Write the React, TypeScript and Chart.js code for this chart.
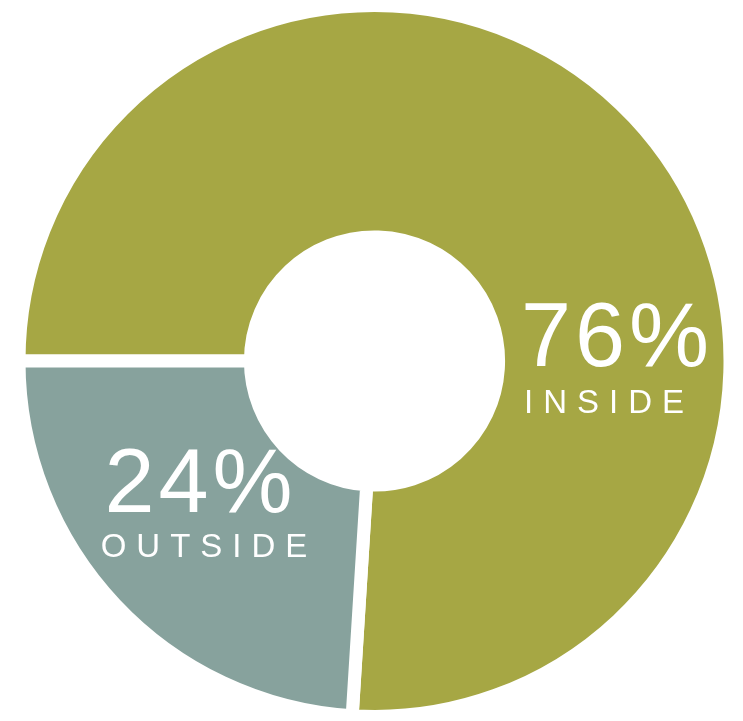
import React, { useEffect, useRef } from "react";
import { Chart, registerables } from "chart.js";

Chart.register(...registerables);

const categories = ["INSIDE", "OUTSIDE"];
const values = [76, 24];
const percentLabels = ["76%", "24%"];
const colors = ["#A6A744", "#87A29D"];

// label placement offsets relative to the doughnut centre (px): [pctDx, pctDy, nameDx, nameDy]
const labelOffsets = [
  [240.5, 5, 229.5, 52],
  [-176, 151, -170.5, 196],
];

function drawSpaced(ctx: CanvasRenderingContext2D, text: string, cx: number, y: number, spacing: number) {
  const chars = text.split("");
  const widths = chars.map((c) => ctx.measureText(c).width);
  const total = widths.reduce((a, b) => a + b, 0) + spacing * (chars.length - 1);
  let x = cx - total / 2;
  ctx.textAlign = "left";
  chars.forEach((c, i) => {
    ctx.fillText(c, x, y);
    x += widths[i] + spacing;
  });
}

const labelPlugin = {
  id: "centerLabels",
  afterDatasetsDraw(chart: any) {
    const meta = chart.getDatasetMeta(0);
    const ctx: CanvasRenderingContext2D = chart.ctx;
    ctx.save();
    ctx.fillStyle = "#FFFFFF";
    ctx.textBaseline = "alphabetic";
    meta.data.forEach((arc: any, i: number) => {
      const cx = arc.x;
      const cy = arc.y;
      const off = labelOffsets[i];
      ctx.font = "90px 'Liberation Sans', Arial, sans-serif";
      drawSpaced(ctx, percentLabels[i], cx + off[0], cy + off[1], 4);
      ctx.font = "33px 'Liberation Sans', Arial, sans-serif";
      drawSpaced(ctx, categories[i], cx + off[2], cy + off[3], 10);
    });
    ctx.restore();
  },
};

export default function App() {
  const ref = useRef<HTMLCanvasElement>(null);
  useEffect(() => {
    if (!ref.current) return;
    const chart = new Chart(ref.current, {
      type: "doughnut",
      data: {
        labels: categories,
        datasets: [
          {
            data: values,
            backgroundColor: colors,
            borderColor: "#FFFFFF",
            borderWidth: 13,
            borderAlign: "center",
          },
        ],
      },
      options: {
        responsive: false,
        animation: false,
        rotation: 270,
        radius: 355.5,
        cutout: "34.9%",
        layout: { padding: { left: 6, right: 0, top: 1, bottom: 0 } },
        plugins: {
          legend: { display: false },
          tooltip: { enabled: false },
        },
      },
      plugins: [labelPlugin],
    });
    return () => chart.destroy();
  }, []);
  return (
    <canvas
      ref={ref}
      width={743}
      height={721}
      style={{ position: "absolute", left: 0, top: 0, display: "block" }}
    />
  );
}
